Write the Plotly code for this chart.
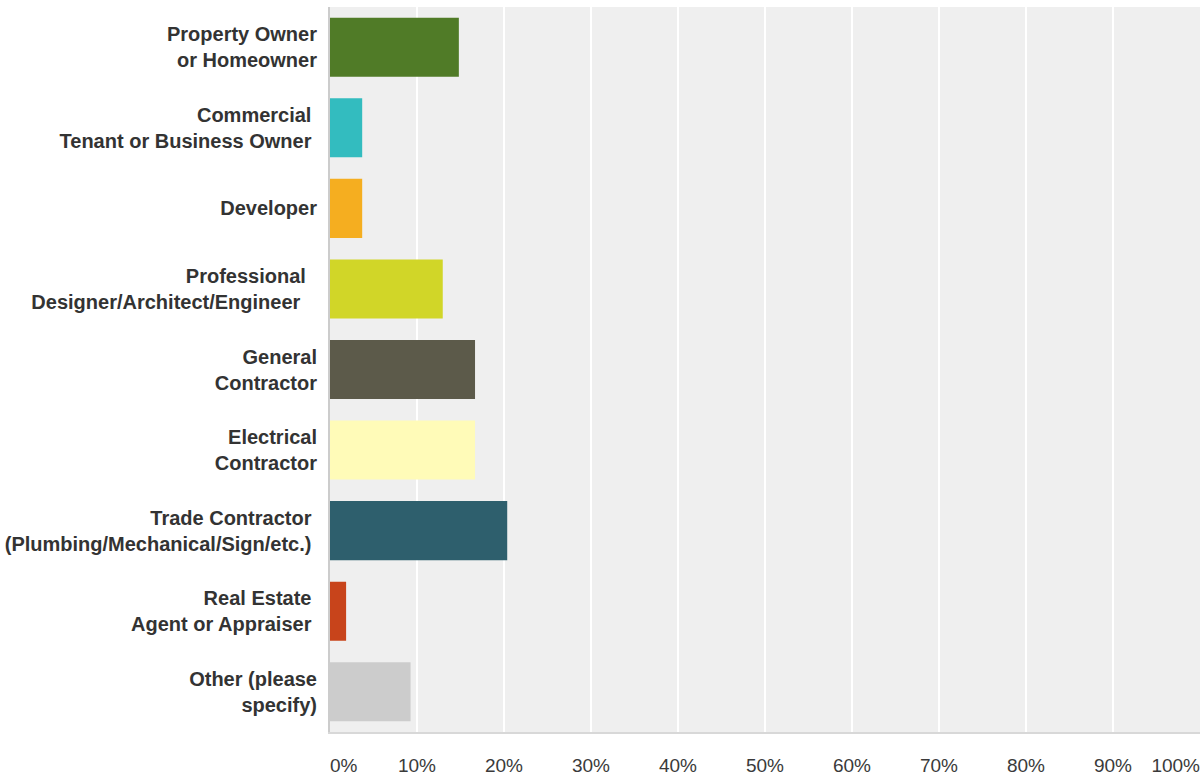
import plotly.graph_objects as go

NBSP = "\u00a0"

# Respondent roles (top to bottom) and share of responses in percent
categories = [
    "Property Owner<br>or Homeowner",
    "Commercial" + NBSP + "<br>Tenant or Business Owner" + NBSP,
    "Developer",
    "Professional" + NBSP * 2 + "<br>Designer/Architect/Engineer" + NBSP * 3,
    "General<br>Contractor",
    "Electrical<br>Contractor",
    "Trade Contractor" + NBSP + "<br>(Plumbing/Mechanical/Sign/etc.)" + NBSP,
    "Real Estate" + NBSP + "<br>Agent or Appraiser" + NBSP,
    "Other (please<br>specify)",
]
percent = [14.81, 3.70, 3.70, 12.96, 16.67, 16.67, 20.37, 1.85, 9.26]
bar_colors = [
    "#507b27", "#33bcbf", "#f5ae20", "#d1d628", "#5c5a4a",
    "#fffbb8", "#2e5f6d", "#c8441b", "#cccccc",
]

# Percent axis: inner ticks are centred, the two end ticks hug the plot edges
inner_ticks = [10, 20, 30, 40, 50, 60, 70, 80, 90]
inner_labels = ["10%", "20%", "30%", "40%", "50%", "60%", "70%", "80%", "90%"]
start_tick, start_label = [0], ["0%"]
end_tick, end_label = [100], ["100%"]

fig = go.Figure(
    go.Bar(
        x=percent,
        y=categories,
        orientation="h",
        marker=dict(color=bar_colors, line=dict(width=0)),
        hoverinfo="x+y",
    )
)
# empty helpers so the extra percent axes are rendered
fig.add_trace(go.Scatter(x=[], y=[], xaxis="x2", yaxis="y", showlegend=False))
fig.add_trace(go.Scatter(x=[], y=[], xaxis="x3", yaxis="y", showlegend=False))

label_font = dict(size=19, color="#3a3a3a")

fig.update_layout(
    width=1204,
    height=779,
    margin=dict(l=330, r=4, t=7, b=47),
    paper_bgcolor="white",
    plot_bgcolor="#efefef",
    bargap=0.267,
    showlegend=False,
    font=dict(family="Arial, Liberation Sans, sans-serif", color="#333333"),
    xaxis=dict(
        range=[0, 100],
        tickvals=inner_ticks,
        ticktext=inner_labels,
        showgrid=True,
        gridcolor="white",
        gridwidth=2,
        zeroline=False,
        showline=True,
        linecolor="#d8d8d8",
        linewidth=2,
        ticks="",
        ticklabelstandoff=15,
        tickfont=label_font,
        automargin=False,
        fixedrange=True,
    ),
    xaxis2=dict(
        overlaying="x",
        side="bottom",
        range=[0, 100],
        tickvals=start_tick,
        ticktext=start_label,
        ticklabelposition="outside right",
        showgrid=False,
        zeroline=False,
        showline=False,
        ticks="",
        ticklabelstandoff=20,
        tickfont=label_font,
        automargin=False,
        fixedrange=True,
    ),
    xaxis3=dict(
        overlaying="x",
        side="bottom",
        range=[0, 100],
        tickvals=end_tick,
        ticktext=end_label,
        ticklabelposition="outside left",
        ticklabeloverflow="allow",
        showgrid=False,
        zeroline=False,
        showline=False,
        ticks="",
        ticklabelstandoff=20,
        tickfont=label_font,
        automargin=False,
        fixedrange=True,
    ),
    yaxis=dict(
        autorange="reversed",
        showgrid=False,
        zeroline=False,
        showline=True,
        linecolor="#cccccc",
        linewidth=2,
        ticks="",
        ticklabelstandoff=7,
        tickfont=dict(size=20, color="#333333", weight="bold"),
        automargin=False,
        fixedrange=True,
    ),
)

fig.write_html("out.html")
